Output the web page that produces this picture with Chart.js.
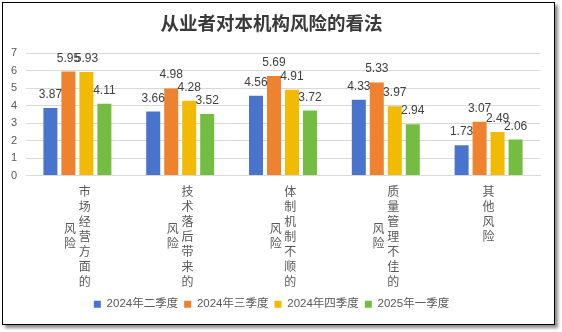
<!DOCTYPE html>
<html>
<head>
<meta charset="utf-8">
<script src="https://cdn.jsdelivr.net/npm/chart.js@4.4.1/dist/chart.umd.min.js"></script>
<style>
body{margin:0;background:#fff;}
#frame{position:absolute;left:2px;top:2px;width:551px;height:321px;border:1px solid #000;box-shadow:3px 3px 3px rgba(0,0,0,.45);background:#fff;}
canvas{display:block;}
</style>
</head>
<body>
<div id="frame"><canvas id="myChart" width="551" height="321"></canvas></div>
<script>
var chartTitle = '从业者对本机构风险的看法';
var categories = ['市场经营方面的风险', '技术落后带来的风险', '体制机制不顺的风险', '质量管理不佳的风险', '其他风险'];
var seriesNames = ['2024年二季度', '2024年三季度', '2024年四季度', '2025年一季度'];
var q2_2024 = [3.87, 3.66, 4.56, 4.33, 1.73];
var q3_2024 = [5.95, 4.98, 5.69, 5.33, 3.07];
var q4_2024 = [5.93, 4.28, 4.91, 3.97, 2.49];
var q1_2025 = [4.11, 3.52, 3.72, 2.94, 2.06];
var colors = ['#4874CB', '#EE822F', '#F2BA02', '#75BD42'];

// vertical label: first column on the right, the rest on the left, centered
// each row is two half-lines so the short column can sit half a row lower
function verticalLabel(name){
    var perCol = 7;
    var right = name.slice(0, perCol);
    var left = name.slice(perCol);
    var total = right.length * 2 - 1;
    var lines = [];
    var start = right.length - left.length;
    for (var i = 0; i < total; i++){
        var r = (i % 2 === 0 && i / 2 < right.length) ? right[i / 2] : '';
        var k = i - start;
        var l = (left.length && k >= 0 && k % 2 === 0 && k / 2 < left.length) ? left[k / 2] : '';
        if (!left.length){
            lines.push(r);
        } else if (!r && !l){
            lines.push('');
        } else {
            lines.push((l || '\u3000') + ' ' + (r || '\u3000'));
        }
    }
    return lines;
}

var valueLabels = {
    id: 'valueLabels',
    afterDatasetsDraw: function(chart){
        var ctx = chart.ctx;
        ctx.save();
        ctx.font = '12px "Liberation Sans", "Noto Sans CJK SC"';
        ctx.fillStyle = '#404040';
        ctx.textAlign = 'center';
        ctx.textBaseline = 'alphabetic';
        chart.data.datasets.forEach(function(ds, i){
            chart.getDatasetMeta(i).data.forEach(function(bar, j){
                ctx.fillText(ds.data[j], bar.x, bar.y - 10);
            });
        });
        ctx.restore();
    }
};

var allSeries = [q2_2024, q3_2024, q4_2024, q1_2025];
var ctx = document.getElementById('myChart').getContext('2d');
var chart = new Chart(ctx, {
    type: 'bar',
    data: {
        labels: categories.map(verticalLabel),
        datasets: allSeries.map(function(d, i){
            return {
                label: seriesNames[i],
                data: d,
                backgroundColor: colors[i],
                categoryPercentage: 0.70,
                barPercentage: 0.778
            };
        })
    },
    options: {
        responsive: false,
        animation: false,
        layout: {padding: {left: 0, right: 14, top: 0, bottom: 4}},
        plugins: {
            title: {
                display: true,
                text: chartTitle,
                color: '#3a3a3a',
                font: {family: '"Noto Sans CJK SC"', size: 18.5, weight: 'bold', lineHeight: 1.2},
                padding: {top: 9, bottom: 19}
            },
            legend: {
                position: 'bottom',
                labels: {
                    boxWidth: 7,
                    boxHeight: 7,
                    padding: 6,
                    color: '#595959',
                    font: {family: '"Liberation Sans", "Noto Sans CJK SC"', size: 11.5}
                }
            },
            tooltip: {enabled: false}
        },
        scales: {
            x: {
                grid: {display: false, drawTicks: false},
                border: {color: '#d9d9d9'},
                ticks: {
                    autoSkip: false,
                    maxRotation: 0,
                    minRotation: 0,
                    padding: 12,
                    color: '#595959',
                    font: {family: '"Noto Sans CJK SC"', size: 12, lineHeight: '7.5px'}
                },
                afterFit: function(scale){ scale.height = 117; }
            },
            y: {
                min: 0,
                max: 7,
                ticks: {
                    stepSize: 1,
                    autoSkip: false,
                    padding: 9,
                    color: '#595959',
                    font: {family: '"Liberation Sans", "Noto Sans CJK SC"', size: 11}
                },
                grid: {color: '#d9d9d9', drawTicks: false},
                border: {display: false},
                afterFit: function(scale){ scale.width = 23; }
            }
        }
    },
    plugins: [valueLabels]
});
</script>
</body>
</html>
